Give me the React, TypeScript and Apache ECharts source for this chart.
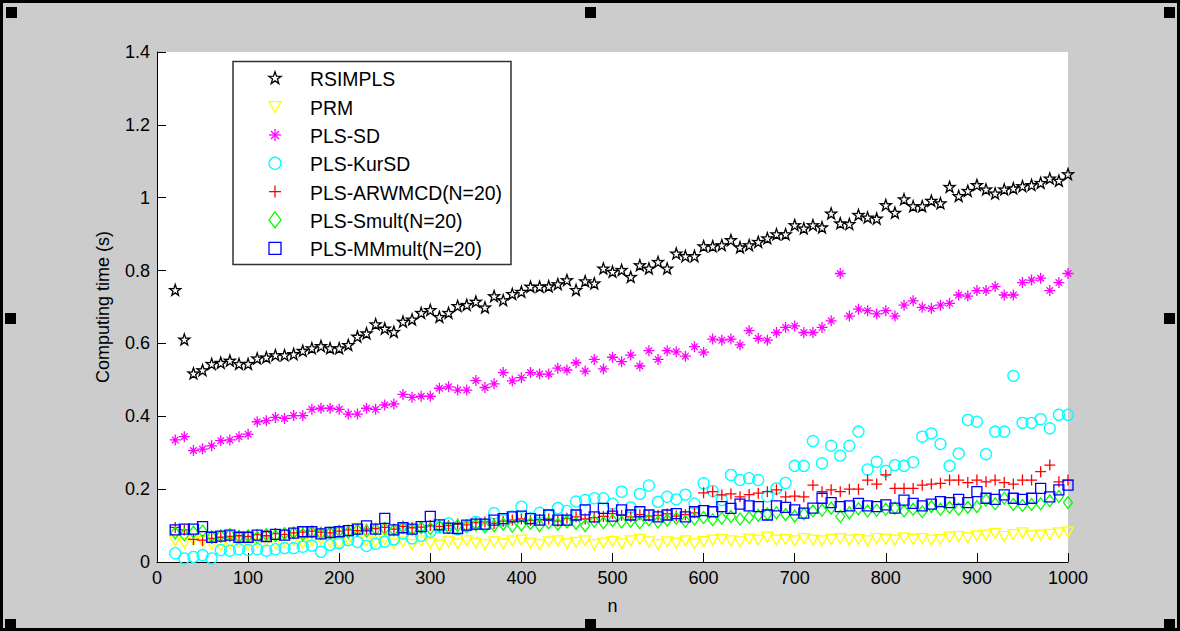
import React, { useEffect, useRef } from "react";
import * as echarts from "echarts";

const nValues = [
  20, 30, 40, 50, 60, 70, 80, 90, 100, 110,
  120, 130, 140, 150, 160, 170, 180, 190, 200, 210,
  220, 230, 240, 250, 260, 270, 280, 290, 300, 310,
  320, 330, 340, 350, 360, 370, 380, 390, 400, 410,
  420, 430, 440, 450, 460, 470, 480, 490, 500, 510,
  520, 530, 540, 550, 560, 570, 580, 590, 600, 610,
  620, 630, 640, 650, 660, 670, 680, 690, 700, 710,
  720, 730, 740, 750, 760, 770, 780, 790, 800, 810,
  820, 830, 840, 850, 860, 870, 880, 890, 900, 910,
  920, 930, 940, 950, 960, 970, 980, 990, 1000,
];

const rsimpls = [
  0.747, 0.611, 0.518, 0.527, 0.544, 0.547, 0.553, 0.544, 0.544, 0.559,
  0.562, 0.568, 0.568, 0.571, 0.58, 0.587, 0.593, 0.587, 0.587, 0.596,
  0.619, 0.628, 0.653, 0.641, 0.632, 0.66, 0.666, 0.684, 0.692, 0.673,
  0.684, 0.703, 0.706, 0.715, 0.699, 0.73, 0.719, 0.736, 0.742, 0.756,
  0.756, 0.757, 0.763, 0.774, 0.747, 0.771, 0.765, 0.806, 0.797, 0.802,
  0.783, 0.815, 0.806, 0.824, 0.806, 0.847, 0.84, 0.84, 0.867, 0.867,
  0.87, 0.884, 0.864, 0.87, 0.879, 0.889, 0.9, 0.9, 0.925, 0.916,
  0.925, 0.919, 0.957, 0.93, 0.928, 0.953, 0.946, 0.943, 0.98, 0.959,
  0.996, 0.977, 0.977, 0.992, 0.985, 1.03, 1.005, 1.019, 1.035, 1.023,
  1.012, 1.023, 1.026, 1.032, 1.035, 1.041, 1.053, 1.047, 1.065,
];

const prm = [
  0.058, 0.052, 0.06, 0.056, 0.048, 0.045, 0.05, 0.055, 0.047, 0.052,
  0.058, 0.049, 0.055, 0.06, 0.052, 0.058, 0.062, 0.055, 0.05, 0.06,
  0.092, 0.058, 0.055, 0.062, 0.05, 0.055, 0.048, 0.058, 0.052, 0.046,
  0.055, 0.05, 0.058, 0.052, 0.048, 0.055, 0.05, 0.058, 0.06, 0.052,
  0.048, 0.055, 0.058, 0.05, 0.054, 0.058, 0.048, 0.052, 0.056, 0.05,
  0.058, 0.062, 0.055, 0.048, 0.055, 0.052, 0.058, 0.05, 0.056, 0.06,
  0.062, 0.058, 0.055, 0.063, 0.06, 0.068, 0.06, 0.062, 0.058, 0.064,
  0.06, 0.058, 0.062, 0.064, 0.06, 0.062, 0.058, 0.064, 0.062, 0.06,
  0.066, 0.062, 0.064, 0.06, 0.062, 0.068, 0.07, 0.066, 0.072, 0.074,
  0.078, 0.07, 0.075, 0.08, 0.072, 0.074, 0.076, 0.08, 0.082,
];

const plsSD = [
  0.335, 0.344, 0.306, 0.31, 0.319, 0.333, 0.335, 0.344, 0.351, 0.385,
  0.388, 0.397, 0.394, 0.402, 0.402, 0.419, 0.422, 0.422, 0.419, 0.406,
  0.406, 0.422, 0.419, 0.431, 0.434, 0.46, 0.452, 0.455, 0.455, 0.477,
  0.481, 0.472, 0.472, 0.498, 0.479, 0.489, 0.52, 0.497, 0.506, 0.52,
  0.516, 0.516, 0.532, 0.527, 0.547, 0.524, 0.556, 0.53, 0.562, 0.55,
  0.568, 0.538, 0.58, 0.556, 0.58, 0.577, 0.565, 0.591, 0.576, 0.612,
  0.609, 0.612, 0.596, 0.635, 0.614, 0.609, 0.63, 0.644, 0.648, 0.63,
  0.63, 0.644, 0.662, 0.792, 0.675, 0.694, 0.69, 0.681, 0.69, 0.675,
  0.705, 0.717, 0.699, 0.696, 0.705, 0.71, 0.733, 0.73, 0.745, 0.745,
  0.756, 0.733, 0.733, 0.767, 0.774, 0.779, 0.745, 0.767, 0.792,
];

const plsKurSD = [
  0.024, 0.01, 0.014, 0.019, 0.01, 0.033, 0.031, 0.035, 0.033, 0.035,
  0.031, 0.035, 0.038, 0.038, 0.042, 0.045, 0.028, 0.047, 0.052, 0.06,
  0.055, 0.044, 0.05, 0.056, 0.062, 0.079, 0.065, 0.072, 0.083, 0.095,
  0.106, 0.09, 0.098, 0.11, 0.102, 0.134, 0.115, 0.125, 0.152, 0.12,
  0.135, 0.128, 0.148, 0.14, 0.166, 0.17, 0.175, 0.175, 0.16, 0.193,
  0.15, 0.187, 0.21, 0.165, 0.179, 0.172, 0.185, 0.16, 0.216, 0.195,
  0.17, 0.239, 0.225, 0.23, 0.225, 0.18, 0.202, 0.217, 0.264, 0.264,
  0.332, 0.271, 0.319, 0.292, 0.319, 0.358, 0.254, 0.275, 0.25, 0.266,
  0.264, 0.274, 0.344, 0.353, 0.324, 0.264, 0.298, 0.39, 0.385, 0.296,
  0.358, 0.358, 0.511, 0.382, 0.382, 0.392, 0.367, 0.404, 0.404,
];

const plsARWMCD = [
  0.095, 0.088, 0.062, 0.06, 0.065, 0.068, 0.07, 0.072, 0.07, 0.075,
  0.072, 0.078, 0.076, 0.08, 0.082, 0.085, 0.082, 0.08, 0.085, 0.088,
  0.086, 0.09, 0.092, 0.095, 0.09, 0.098, 0.094, 0.096, 0.1, 0.098,
  0.1, 0.104, 0.102, 0.108, 0.11, 0.106, 0.112, 0.115, 0.118, 0.114,
  0.116, 0.118, 0.112, 0.12, 0.124, 0.118, 0.122, 0.125, 0.133, 0.128,
  0.124, 0.13, 0.126, 0.128, 0.132, 0.126, 0.13, 0.135, 0.19, 0.193,
  0.184, 0.187, 0.179, 0.185, 0.189, 0.193, 0.198, 0.179, 0.181, 0.179,
  0.211, 0.193, 0.198, 0.193, 0.2, 0.2, 0.225, 0.214, 0.239, 0.202,
  0.202, 0.202, 0.211, 0.214, 0.216, 0.225, 0.225, 0.218, 0.225, 0.22,
  0.225, 0.218, 0.214, 0.225, 0.225, 0.248, 0.266, 0.22, 0.225,
];

const plsSmult = [
  0.08, 0.075, 0.082, 0.085, 0.07, 0.072, 0.075, 0.07, 0.072, 0.068,
  0.075, 0.072, 0.078, 0.08, 0.076, 0.082, 0.078, 0.08, 0.085, 0.082,
  0.088, 0.085, 0.09, 0.092, 0.088, 0.095, 0.09, 0.094, 0.092, 0.098,
  0.095, 0.1, 0.098, 0.102, 0.096, 0.1, 0.104, 0.098, 0.102, 0.106,
  0.1, 0.108, 0.104, 0.11, 0.106, 0.1, 0.112, 0.108, 0.114, 0.11,
  0.112, 0.108, 0.116, 0.11, 0.115, 0.12, 0.112, 0.118, 0.122, 0.116,
  0.12, 0.125, 0.118, 0.122, 0.128, 0.132, 0.135, 0.13, 0.126, 0.132,
  0.14, 0.142, 0.148, 0.125, 0.135, 0.146, 0.14, 0.142, 0.145, 0.148,
  0.14, 0.145, 0.138, 0.152, 0.145, 0.15, 0.145, 0.15, 0.152, 0.17,
  0.16, 0.175, 0.158, 0.155, 0.158, 0.16, 0.168, 0.18, 0.163,
];

const plsMMmult = [
  0.088, 0.09, 0.09, 0.097, 0.068, 0.071, 0.074, 0.068, 0.068, 0.074,
  0.07, 0.076, 0.074, 0.079, 0.083, 0.083, 0.077, 0.081, 0.083, 0.086,
  0.09, 0.099, 0.09, 0.12, 0.088, 0.094, 0.09, 0.097, 0.125, 0.102,
  0.093, 0.092, 0.101, 0.104, 0.104, 0.115, 0.119, 0.124, 0.126, 0.119,
  0.115, 0.129, 0.115, 0.115, 0.129, 0.143, 0.124, 0.147, 0.126, 0.143,
  0.129, 0.138, 0.129, 0.124, 0.129, 0.133, 0.124, 0.138, 0.141, 0.138,
  0.152, 0.147, 0.159, 0.154, 0.152, 0.129, 0.154, 0.15, 0.143, 0.134,
  0.148, 0.175, 0.163, 0.152, 0.154, 0.161, 0.154, 0.152, 0.157, 0.148,
  0.17, 0.161, 0.154, 0.159, 0.166, 0.163, 0.172, 0.163, 0.193, 0.175,
  0.172, 0.184, 0.175, 0.172, 0.175, 0.202, 0.179, 0.198, 0.211,
];

const seriesNames = [
  "RSIMPLS",
  "PRM",
  "PLS-SD",
  "PLS-KurSD",
  "PLS-ARWMCD(N=20)",
  "PLS-Smult(N=20)",
  "PLS-MMmult(N=20)",
];
const seriesValues = [rsimpls, prm, plsSD, plsKurSD, plsARWMCD, plsSmult, plsMMmult];
const seriesColors = ["#000000", "#ffff00", "#ff00ff", "#00ffff", "#ff0000", "#00ff00", "#0000ff"];

const xTicks = { min: 0, max: 1000, interval: 100 };
const yTicks = { min: 0, max: 1.4, interval: 0.2 };

const STAR = "path://M50 0 L61.8 35.1 L97.6 34.5 L69.1 56.7 L79.4 90.5 L50 70 L20.6 90.5 L30.9 56.7 L2.4 34.5 L38.2 35.1 Z";
const TRI_DOWN = "path://M0 0 L10 0 L5 9 Z";
const ASTER = "path://M5 0 L5 10 M0 5 L10 5 M2 2 L8 8 M8 2 L2 8";
const PLUS = "path://M5 0 L5 10 M0 5 L10 5";
const symbols = [STAR, TRI_DOWN, ASTER, "circle", PLUS, "diamond", "rect"];
const sizes: any[] = [[11, 11], [11, 10], [11, 11], 11, [11, 11], [9, 12], [10, 10]];

const FONT = "'Liberation Sans', Arial, sans-serif";

function starPoints(cx: number, cy: number, r: number) {
  const pts: number[][] = [];
  for (let i = 0; i < 10; i++) {
    const rr = i % 2 === 0 ? r : r * 0.4;
    const a = -Math.PI / 2 + (i * Math.PI) / 5;
    pts.push([cx + rr * Math.cos(a), cy + rr * Math.sin(a)]);
  }
  return pts;
}

function legendIcon(i: number, cx: number, cy: number): any[] {
  const c = seriesColors[i];
  const st = { stroke: c, fill: "none", lineWidth: 1.3 };
  switch (i) {
    case 0:
      return [{ type: "polygon", shape: { points: starPoints(cx, cy, 6.5) }, style: st }];
    case 1:
      return [{ type: "polygon", shape: { points: [[cx - 6, cy - 5], [cx + 6, cy - 5], [cx, cy + 6]] }, style: st }];
    case 2:
      return [
        { type: "line", shape: { x1: cx, y1: cy - 6, x2: cx, y2: cy + 6 }, style: st },
        { type: "line", shape: { x1: cx - 6, y1: cy, x2: cx + 6, y2: cy }, style: st },
        { type: "line", shape: { x1: cx - 4, y1: cy - 4, x2: cx + 4, y2: cy + 4 }, style: st },
        { type: "line", shape: { x1: cx + 4, y1: cy - 4, x2: cx - 4, y2: cy + 4 }, style: st },
      ];
    case 3:
      return [{ type: "circle", shape: { cx, cy, r: 6 }, style: st }];
    case 4:
      return [
        { type: "line", shape: { x1: cx, y1: cy - 6, x2: cx, y2: cy + 6 }, style: st },
        { type: "line", shape: { x1: cx - 6, y1: cy, x2: cx + 6, y2: cy }, style: st },
      ];
    case 5:
      return [{ type: "polygon", shape: { points: [[cx, cy - 8], [cx + 6, cy], [cx, cy + 8], [cx - 6, cy]] }, style: st }];
    default:
      return [{ type: "rect", shape: { x: cx - 6, y: cy - 6, width: 12, height: 12 }, style: st }];
  }
}

export default function App() {
  const ref = useRef<HTMLDivElement>(null);
  useEffect(() => {
    if (!ref.current) return;
    const chart = echarts.init(ref.current, undefined, { renderer: "svg" });

    const series = seriesNames.map((name, i) => ({
      name,
      type: "scatter",
      symbol: symbols[i],
      symbolSize: sizes[i],
      data: nValues.map((n, k) => [n, seriesValues[i][k]]),
      itemStyle: {
        color: "none",
        borderColor: seriesColors[i],
        borderWidth: 1.3,
        opacity: 1,
      },
      emphasis: { disabled: true },
      silent: true,
    }));

    const legendX = 275;
    const legendTop = 78.3;
    const legendStep = 28.33;
    const legendEls: any[] = [
      {
        type: "rect",
        shape: { x: 233, y: 61.5, width: 278, height: 203 },
        style: { fill: "#ffffff", stroke: "#333333", lineWidth: 1.5 },
        z: 100,
      },
    ];
    seriesNames.forEach((name, i) => {
      const cy = legendTop + i * legendStep;
      legendIcon(i, legendX, cy).forEach((el) => legendEls.push({ ...el, z: 101 }));
      legendEls.push({
        type: "text",
        x: 310,
        y: cy + 1,
        z: 101,
        style: {
          text: name,
          fill: "#000",
          font: `19.4px ${FONT}`,
          verticalAlign: "middle",
        },
      });
    });

    const handle = (x: number, y: number) => ({
      type: "rect",
      shape: { x, y, width: 11, height: 11 },
      style: { fill: "#000" },
      z: 200,
    });

    chart.setOption({
      animation: false,
      backgroundColor: "#cccccc",
      grid: {
        left: 157,
        top: 52,
        width: 911,
        height: 510,
        show: true,
        backgroundColor: "#ffffff",
        borderWidth: 0,
        containLabel: false,
      },
      xAxis: {
        type: "value",
        min: xTicks.min,
        max: xTicks.max,
        interval: xTicks.interval,
        name: "n",
        nameLocation: "middle",
        nameGap: 35,
        nameTextStyle: { color: "#000", fontSize: 18, fontFamily: FONT },
        axisLine: { show: true, lineStyle: { color: "#000", width: 1 } },
        axisTick: { show: true, inside: true, length: 9, lineStyle: { color: "#000" } },
        axisLabel: {
          color: "#000",
          fontSize: 18,
          fontFamily: FONT,
          margin: 7,
          formatter: (v: number) => String(v),
        },
        splitLine: { show: false },
      },
      yAxis: {
        type: "value",
        min: yTicks.min,
        max: yTicks.max,
        interval: yTicks.interval,
        name: "Computing time (s)",
        nameLocation: "middle",
        nameGap: 45,
        nameTextStyle: { color: "#000", fontSize: 18, fontFamily: FONT },
        axisLine: { show: true, lineStyle: { color: "#000", width: 1 } },
        axisTick: { show: true, inside: true, length: 9, lineStyle: { color: "#000" } },
        axisLabel: {
          color: "#000",
          fontSize: 18,
          fontFamily: FONT,
          margin: 7,
          formatter: (v: number) => String(Math.round(v * 10) / 10),
        },
        splitLine: { show: false },
      },
      series,
      graphic: [
        {
          type: "rect",
          shape: { x: 1.5, y: 1.5, width: 1177, height: 628 },
          style: { fill: "none", stroke: "#000", lineWidth: 3 },
          z: 150,
        },
        handle(6, 7),
        handle(585, 7),
        handle(1164, 7),
        handle(5, 313),
        handle(1164, 313),
        handle(5, 619),
        handle(585, 619),
        handle(1164, 619),
        ...legendEls,
      ],
    });
    return () => chart.dispose();
  }, []);

  return (
    <div
      ref={ref}
      style={{ position: "fixed", left: 0, top: 0, width: 1180, height: 631 }}
    />
  );
}
